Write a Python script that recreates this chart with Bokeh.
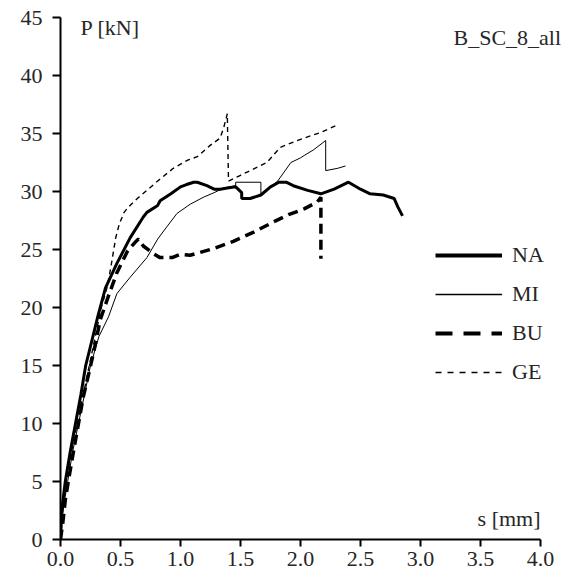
from bokeh.plotting import figure
from bokeh.models import (Legend, LegendItem, Label, SingleIntervalTicker,
                          NumeralTickFormatter, Range1d)
from bokeh.embed import file_html
from bokeh.resources import INLINE

# ---- data (s [mm], P [kN]) ----
na_s = [0, 0.01, 0.04, 0.08, 0.125, 0.17, 0.21, 0.27, 0.31, 0.375, 0.47, 0.58, 0.69, 0.72,
        0.81, 0.83, 0.92, 1.0, 1.05, 1.11, 1.14, 1.22, 1.28, 1.33, 1.39, 1.46, 1.51, 1.51,
        1.58, 1.67, 1.75, 1.82, 1.88, 1.94, 2.06, 2.17, 2.28, 2.40, 2.50, 2.58, 2.69, 2.78,
        2.81, 2.85]
na_p = [0, 2.5, 5, 7.5, 10, 12.5, 15, 17.5, 19.2, 21.7, 23.8, 26.0, 27.8, 28.2,
        28.8, 29.2, 29.8, 30.4, 30.6, 30.8, 30.8, 30.5, 30.2, 30.2, 30.3, 30.4, 29.9, 29.4,
        29.4, 29.7, 30.4, 30.8, 30.8, 30.5, 30.1, 29.8, 30.2, 30.8, 30.2, 29.8, 29.7, 29.4,
        28.7, 27.9]

mi_s = [0, 0.02, 0.06, 0.10, 0.15, 0.20, 0.25, 0.32, 0.40, 0.47, 0.58, 0.72, 0.81, 0.86,
        0.97, 1.08, 1.19, 1.28, 1.36, 1.46, 1.46, 1.67, 1.67, 1.75, 1.81, 1.92, 2.0, 2.03,
        2.11, 2.21, 2.21, 2.31, 2.375]
mi_p = [0, 2.5, 5, 7.5, 10, 12.5, 15, 17.5, 19.2, 21.2, 22.6, 24.3, 25.9, 26.6,
        28.1, 28.9, 29.5, 29.9, 30.3, 30.5, 30.8, 30.8, 29.7, 30.4, 30.9, 32.5, 32.9, 33.1,
        33.6, 34.4, 31.8, 32.0, 32.2]

bu_s = [0, 0.02, 0.04, 0.065, 0.10, 0.15, 0.19, 0.24, 0.28, 0.33, 0.40, 0.47, 0.56, 0.62,
        0.65, 0.69, 0.78, 0.83, 0.93, 1.0, 1.08, 1.28, 1.44, 1.61, 1.78, 1.90, 2.03, 2.14,
        2.17, 2.17]
bu_p = [0, 1.5, 3.4, 5, 7.1, 10, 12.3, 14.5, 16.3, 18.9, 21.0, 23.0, 24.9, 25.6,
        25.9, 25.3, 24.6, 24.3, 24.3, 24.6, 24.5, 25.1, 25.7, 26.5, 27.4, 28.0, 28.5, 29.1,
        29.5, 24.2]

ge_s = [0, 0.02, 0.05, 0.09, 0.14, 0.19, 0.24, 0.29, 0.34, 0.39, 0.42, 0.46, 0.49, 0.53,
        0.56, 0.64, 0.72, 0.81, 0.94, 1.06, 1.14, 1.25, 1.33, 1.36, 1.39, 1.40, 1.5, 1.56,
        1.72, 1.83, 2.0, 2.17, 2.32]
ge_p = [0, 2.5, 5, 7.5, 10, 12.5, 15, 17.5, 20, 21.8, 23.5, 26.0, 27.2, 28.2,
        28.6, 29.4, 30.1, 30.9, 32.0, 32.7, 33.0, 34.0, 34.6, 35.5, 36.7, 30.9, 31.4, 31.7,
        32.5, 33.8, 34.5, 35.1, 35.8]

series_names = ["NA", "MI", "BU", "GE"]
title_text = "B_SC_8_all"
x_label = "s [mm]"
y_label = "P [kN]"
x_max_tick = 4.0

FONT = "Liberation Serif"
TXT = "#262626"
FS = "22px"

# frame: 60 px left border, 502 px wide (x 0..4.1833 at 120 px/unit), 522 px high
p = figure(width=566, height=579, x_range=Range1d(0, 4.1833), y_range=Range1d(0, 45),
           output_backend="svg", toolbar_location=None,
           min_border_left=60, min_border_right=4, min_border_top=17, min_border_bottom=40)
p.outline_line_color = None
p.grid.visible = False
p.background_fill_color = "white"

for ax in (p.xaxis, p.yaxis):
    ax.axis_line_color = "black"
    ax.axis_line_width = 2
    ax.major_tick_line_color = "black"
    ax.major_tick_line_width = 2
    ax.major_tick_in = 0
    ax.minor_tick_line_color = None
    ax.major_label_text_font = FONT
    ax.major_label_text_font_size = FS
    ax.major_label_text_color = TXT

p.xaxis.ticker = SingleIntervalTicker(interval=0.5, num_minor_ticks=0)
p.xaxis.formatter = NumeralTickFormatter(format="0.0")
p.xaxis.bounds = (0, x_max_tick)
p.xaxis.major_tick_out = 7
p.xaxis.major_label_standoff = 5
p.yaxis.ticker = SingleIntervalTicker(interval=5, num_minor_ticks=0)
p.yaxis.major_tick_out = 8
p.yaxis.major_label_standoff = 10

# curves
p.line(na_s, na_p, line_color="black", line_width=3)
p.line(mi_s, mi_p, line_color="black", line_width=1)
p.line(bu_s, bu_p, line_color="black", line_width=3.5, line_dash="10 6")
p.line(ge_s, ge_p, line_color="black", line_width=1.4, line_dash="5 4")

# hidden twins of the curves, used only for the legend's (larger) dash patterns
l_na = p.line(na_s, na_p, line_color="black", line_width=4, visible=False)
l_mi = p.line(mi_s, mi_p, line_color="black", line_width=1.3, visible=False)
l_bu = p.line(bu_s, bu_p, line_color="black", line_width=4, line_dash="17 11", visible=False)
l_ge = p.line(ge_s, ge_p, line_color="black", line_width=1.4, line_dash="6 6", visible=False)

legend = Legend(items=[LegendItem(label=n, renderers=[r]) for n, r in
                       zip(series_names, [l_na, l_mi, l_bu, l_ge])],
                location=(375, 154), orientation="vertical",
                glyph_width=67, glyph_height=26, label_height=26, spacing=13,
                padding=0, margin=0, label_standoff=10,
                border_line_color=None, background_fill_alpha=0,
                label_text_font=FONT, label_text_font_size=FS, label_text_color=TXT)
p.add_layout(legend)

p.add_layout(Label(x=0.167, y=44.1, text=y_label, text_baseline="middle",
                   text_font=FONT, text_font_size=FS, text_color=TXT))
p.add_layout(Label(x=4.0, y=1.8, text=x_label, text_baseline="middle", text_align="right",
                   text_font=FONT, text_font_size=FS, text_color=TXT))
p.add_layout(Label(x=3.275, y=43.3, text=title_text, text_baseline="middle",
                   text_font=FONT, text_font_size=FS, text_color=TXT))

open("out.html", "w").write(file_html(p, INLINE))
